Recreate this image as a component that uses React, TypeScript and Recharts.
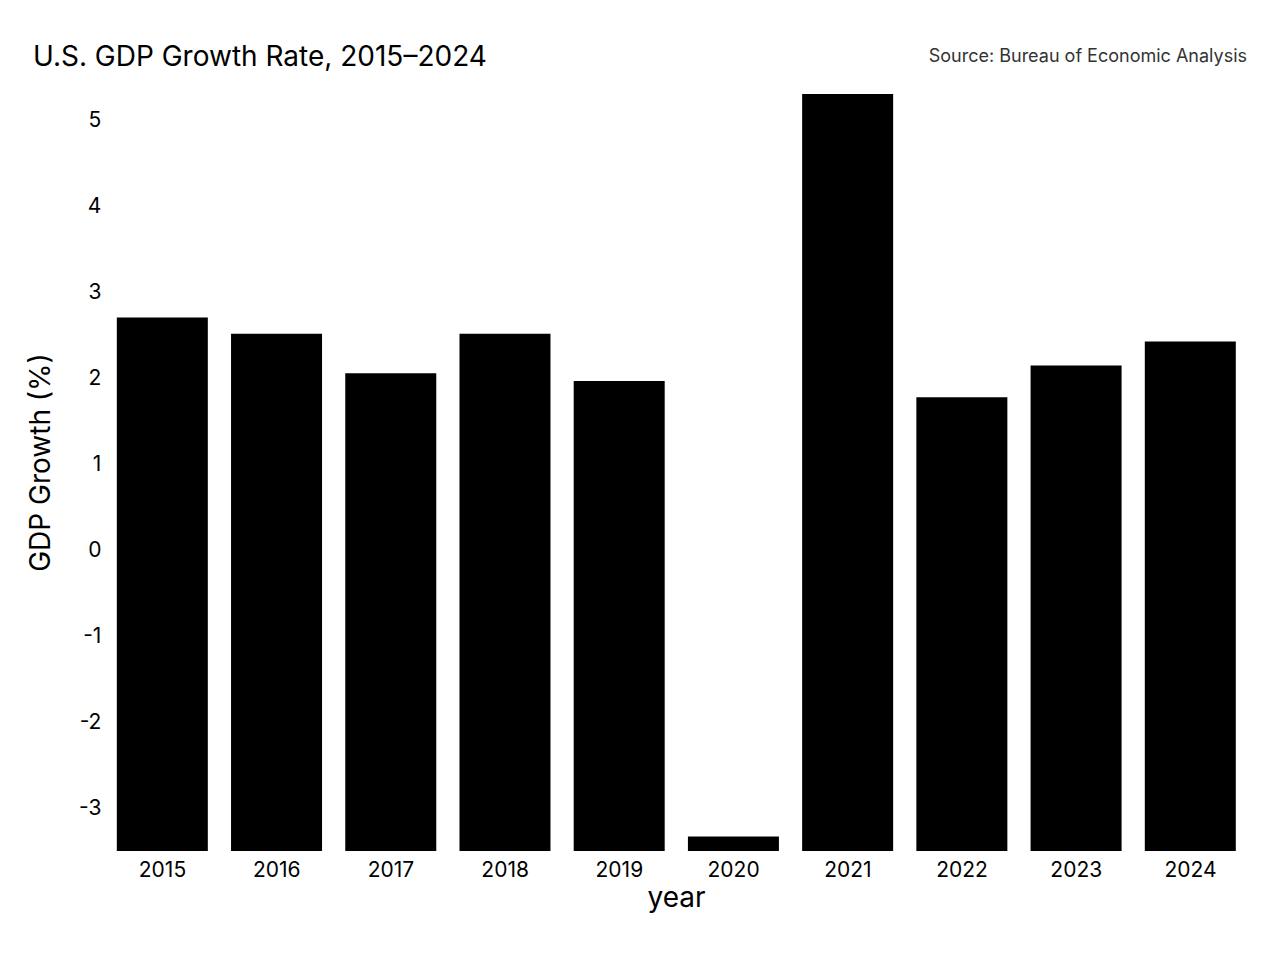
import React from "react";
import { Bar, BarChart, XAxis, YAxis, Label } from "recharts";

// values
const years = ["2015", "2016", "2017", "2018", "2019", "2020", "2021", "2022", "2023", "2024"];
const growth = [2.7, 2.51, 2.05, 2.51, 1.96, -3.34, 5.3, 1.77, 2.14, 2.42];
const yTicks = [-3, -2, -1, 0, 1, 2, 3, 4, 5];

const yMin = -3.51;
const yMax = 5.3;

const data = years.map((year, i) => ({ year, growth: growth[i] }));

const FONT = "Inter, 'Noto Sans', sans-serif";

export default function App() {
  return (
    <div style={{ position: "absolute", left: 0, top: 0, width: 1280, height: 960, fontFamily: FONT, background: "#fff" }}>
      <BarChart
        width={1280}
        height={960}
        data={data}
        margin={{ top: 94, right: 32.4, bottom: 49, left: 0 }}
        barCategoryGap="10%"
      >
        <XAxis
          dataKey="year"
          axisLine={false}
          tickLine={false}
          tickSize={0}
          tickMargin={11}
          height={60}
          interval={0}
          tick={{ fill: "#000", fontSize: 21 }}
        >
          <Label value="year" position="insideBottom" offset={4} fill="#000" fontSize={28} />
        </XAxis>
        <YAxis
          type="number"
          domain={[yMin, yMax]}
          ticks={yTicks}
          allowDataOverflow
          axisLine={false}
          tickLine={false}
          tickSize={0}
          tickMargin={4}
          width={105.4}
          tick={{ fill: "#000", fontSize: 21 }}
        >
          <Label
            value="GDP Growth (%)"
            angle={-90}
            position="insideLeft"
            offset={40}
            dy={-10}
            fill="#000"
            fontSize={28}
            style={{ textAnchor: "middle" }}
          />
        </YAxis>
        {/* bars rise from the bottom of the axis, not from zero */}
        <Bar dataKey={(d) => [yMin, d.growth]} fill="#000" isAnimationActive={false} />
      </BarChart>
      <svg width={1280} height={100} style={{ position: "absolute", left: 0, top: 0 }}>
        <text x={33} y={66} fontSize={28} fill="#000">
          U.S. GDP Growth Rate, 2015–2024
        </text>
        <text x={1247} y={61.5} fontSize={18} fill="#333" textAnchor="end">
          Source: Bureau of Economic Analysis
        </text>
      </svg>
    </div>
  );
}
